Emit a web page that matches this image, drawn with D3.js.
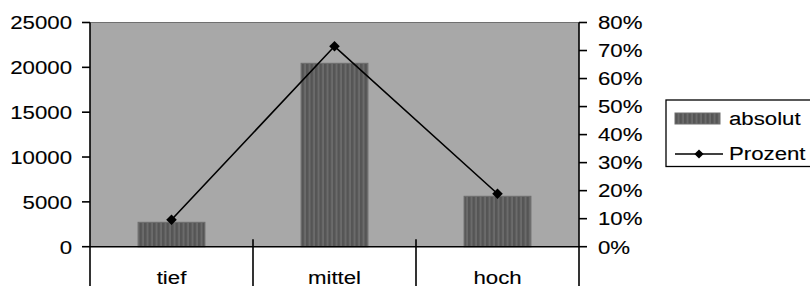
<!DOCTYPE html>
<html lang="de">
<head>
  <meta charset="utf-8">
  <title>absolut / Prozent</title>
  <script src="https://cdn.jsdelivr.net/npm/d3@7/dist/d3.min.js"></script>
  <style>
    body { margin: 0; background: #fff; }
    text { font-family: "Liberation Sans", Arial, sans-serif; fill: #000; stroke: #000; stroke-width: 0.12px; }
  </style>
</head>
<body>
  <svg id="chart" width="810" height="286"></svg>

  <script>
    // data
    const categories = ["tief", "mittel", "hoch"]
    const absolut = [2720, 20450, 5620]
    const prozent = [0.096, 0.715, 0.189]
    const leftTicks = [0, 5000, 10000, 15000, 20000, 25000]
    const rightTicks = [0, 0.1, 0.2, 0.3, 0.4, 0.5, 0.6, 0.7, 0.8]
    const seriesNames = ["absolut", "Prozent"]

    const svg = d3.select("#chart")
    const plotL = 90, plotR = 579, plotT = 22.5, plotB = 246.7
    const sx = 1.17 // text in the picture is stretched horizontally

    const x = d3.scaleBand().domain(categories).range([plotL, plotR]).paddingInner(0).paddingOuter(0)
    const yL = d3.scaleLinear().domain([0, 25000]).range([plotB, plotT])
    const yR = d3.scaleLinear().domain([0, 0.8]).range([plotB, plotT])

    const label = function (g, px, py, txt, anchor) {
      g.append("text")
        .attr("transform", `translate(${px},${py}) scale(${sx},1)`)
        .attr("text-anchor", anchor)
        .attr("font-size", 19)
        .text(txt)
    }

    // stripe pattern for the bars
    const defs = svg.append("defs")
    const pat = defs.append("pattern")
      .attr("id", "stripes").attr("patternUnits", "userSpaceOnUse")
      .attr("width", 4.5).attr("height", 10)
    pat.append("rect").attr("width", 4.5).attr("height", 10).attr("fill", "#555")
    pat.append("rect").attr("x", 2.5).attr("width", 2).attr("height", 10).attr("fill", "#6b6b6b")

    // plot background
    svg.append("rect")
      .attr("x", plotL).attr("y", plotT)
      .attr("width", plotR - plotL).attr("height", plotB - plotT)
      .attr("fill", "#a8a8a8")
    svg.append("line")
      .attr("x1", plotL).attr("x2", plotR).attr("y1", plotT).attr("y2", plotT)
      .attr("stroke", "#707070").attr("stroke-width", 1.2)

    // bars
    const bw = x.bandwidth() * 0.41
    svg.selectAll(".bar").data(absolut).enter().append("rect")
      .attr("class", "bar")
      .attr("x", (d, i) => x(categories[i]) + x.bandwidth() / 2 - bw / 2)
      .attr("y", d => yL(d))
      .attr("width", bw)
      .attr("height", d => plotB - yL(d))
      .attr("fill", "url(#stripes)")
      .attr("stroke", "#6e6e6e").attr("stroke-width", 1)

    // axes lines
    const axis = svg.append("g").attr("stroke", "#000").attr("stroke-width", 1.6)
    axis.append("line").attr("x1", plotL).attr("x2", plotL).attr("y1", plotT).attr("y2", 286)
    axis.append("line").attr("x1", plotR).attr("x2", plotR).attr("y1", plotT).attr("y2", 286)
    axis.append("line").attr("x1", plotL).attr("x2", plotR).attr("y1", plotB).attr("y2", plotB)
    categories.slice(1).forEach(c => {
      axis.append("line").attr("x1", x(c)).attr("x2", x(c)).attr("y1", plotB - 7.5).attr("y2", 286)
    })
    leftTicks.forEach(t => {
      axis.append("line").attr("x1", plotL - 8).attr("x2", plotL).attr("y1", yL(t)).attr("y2", yL(t))
    })
    rightTicks.forEach(t => {
      axis.append("line").attr("x1", plotR).attr("x2", plotR + 8).attr("y1", yR(t)).attr("y2", yR(t))
    })

    const txt = svg.append("g")
    leftTicks.forEach(t => label(txt, 72, yL(t) + 6.8, t, "end"))
    rightTicks.forEach(t => label(txt, 598, yR(t) + 6.8, d3.format(".0%")(t), "start"))
    categories.forEach(c => label(txt, x(c) + x.bandwidth() / 2, 283.5, c, "middle"))

    // percentage line
    const line = d3.line()
      .x((d, i) => x(categories[i]) + x.bandwidth() / 2)
      .y(d => yR(d))
    svg.append("path").datum(prozent)
      .attr("d", line).attr("fill", "none")
      .attr("stroke", "#000").attr("stroke-width", 1.6)
    const diamond = d3.symbol().type(d3.symbolSquare).size(56)
    svg.selectAll(".pt").data(prozent).enter().append("path")
      .attr("class", "pt")
      .attr("d", diamond)
      .attr("transform", (d, i) => `translate(${x(categories[i]) + x.bandwidth() / 2},${yR(d)}) rotate(45)`)
      .attr("fill", "#000")

    // legend
    const lg = svg.append("g")
    lg.append("rect").attr("x", 666).attr("y", 100).attr("width", 160).attr("height", 66.5)
      .attr("fill", "#fff").attr("stroke", "#000").attr("stroke-width", 1.3)
    lg.append("rect").attr("x", 675).attr("y", 113).attr("width", 45).attr("height", 11)
      .attr("fill", "url(#stripes)").attr("stroke", "#6e6e6e")
    lg.append("line").attr("x1", 675).attr("x2", 723).attr("y1", 154).attr("y2", 154)
      .attr("stroke", "#000").attr("stroke-width", 1.4)
    lg.append("path").attr("d", d3.symbol().type(d3.symbolSquare).size(42))
      .attr("transform", "translate(699,154) rotate(45)").attr("fill", "#000")
    label(lg, 729, 125, seriesNames[0], "start")
    label(lg, 729, 160, seriesNames[1], "start")
  </script>
</body>
</html>
